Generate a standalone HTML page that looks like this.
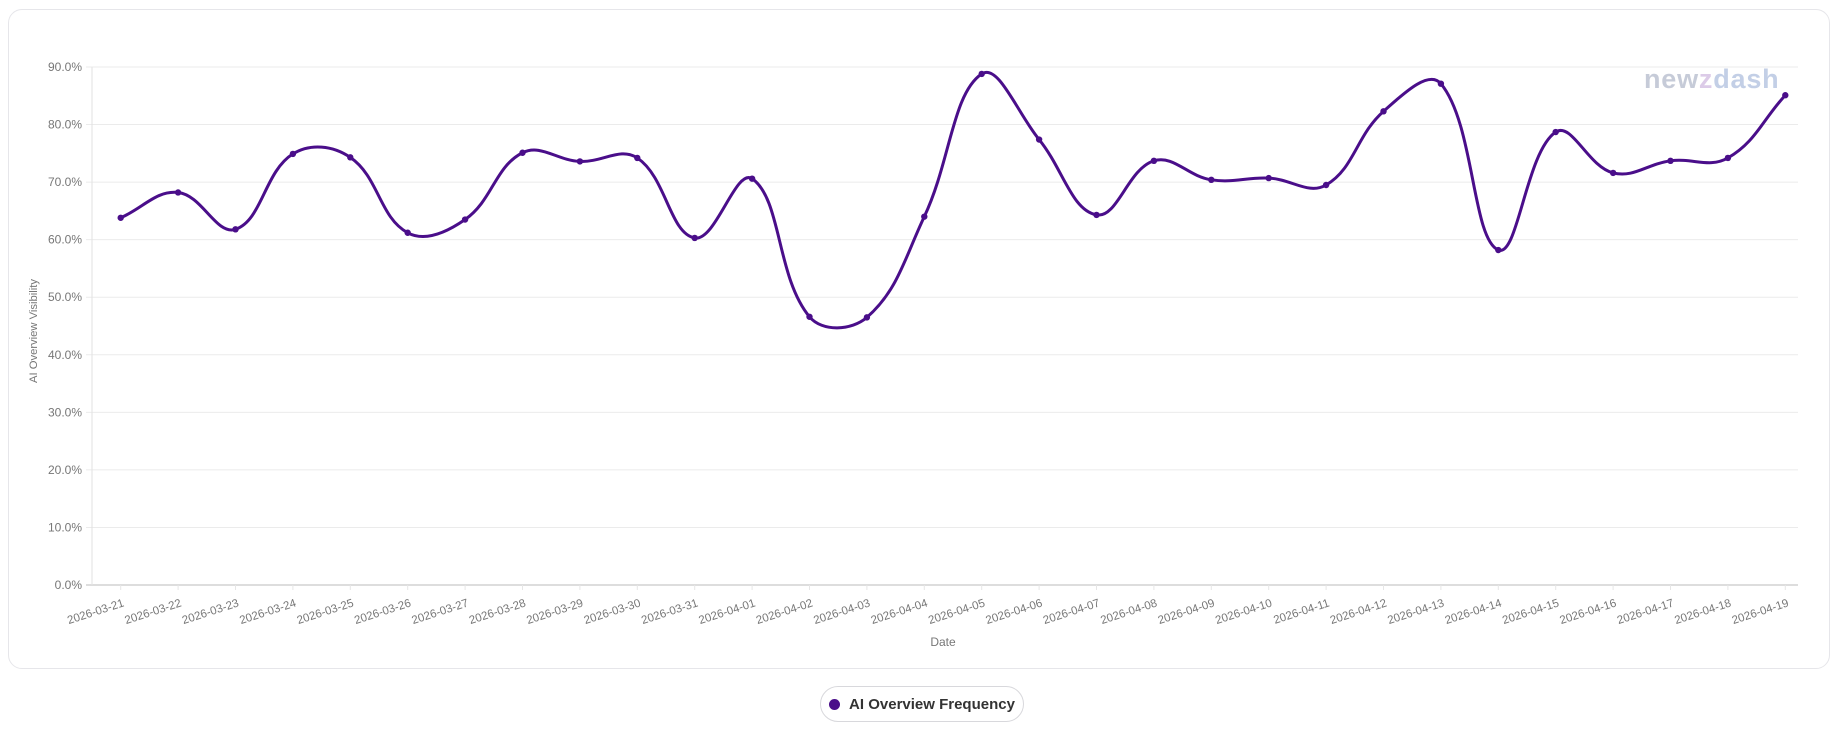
<!DOCTYPE html>
<html><head><meta charset="utf-8"><style>
html,body{margin:0;padding:0;background:#fff;}
body{width:1843px;height:732px;position:relative;overflow:hidden;font-family:"Liberation Sans",sans-serif;}
#card{position:absolute;left:8px;top:9px;width:1822px;height:660px;border:1px solid #e6e6ea;border-radius:14px;box-sizing:border-box;}
#legend{position:absolute;left:820px;top:686px;width:204px;height:36px;border:1px solid #d8d8dc;border-radius:18px;box-sizing:border-box;display:flex;align-items:center;justify-content:center;font-size:15px;color:#333;font-weight:bold;}
#legend .dot{width:11px;height:11px;border-radius:50%;background:#4a0e8a;margin-right:9px;}
svg{position:absolute;left:0;top:0;}
</style></head><body>
<div id="card"></div>
<svg id="chart" width="1843" height="732"></svg>
<div id="legend"><span class="dot"></span><span>AI Overview Frequency</span></div>
<script>
const categories=["2026-03-21","2026-03-22","2026-03-23","2026-03-24","2026-03-25","2026-03-26","2026-03-27","2026-03-28","2026-03-29","2026-03-30","2026-03-31","2026-04-01","2026-04-02","2026-04-03","2026-04-04","2026-04-05","2026-04-06","2026-04-07","2026-04-08","2026-04-09","2026-04-10","2026-04-11","2026-04-12","2026-04-13","2026-04-14","2026-04-15","2026-04-16","2026-04-17","2026-04-18","2026-04-19"];
const values=[63.8,68.2,61.8,74.9,74.3,61.2,63.5,75.1,73.6,74.2,60.3,70.6,46.6,46.5,64.0,88.8,77.4,64.3,73.7,70.4,70.7,69.5,82.3,87.1,58.2,78.7,71.6,73.7,74.2,85.1];
const yTicks=[0,10,20,30,40,50,60,70,80,90];
const yTickLabels=["0.0%","10.0%","20.0%","30.0%","40.0%","50.0%","60.0%","70.0%","80.0%","90.0%"];

const NS="http://www.w3.org/2000/svg";
const svg=document.getElementById('chart');
const L=92,R=1814,GR=1798,T=67,B=585,YMAX=90;
const band=(R-L)/categories.length;
function xS(i){return L+band*(i+0.5);}
function yS(v){return B-(v/YMAX)*(B-T);}
function mk(tag,attrs,parent){const e=document.createElementNS(NS,tag);for(const k in attrs)e.setAttribute(k,attrs[k]);(parent||svg).appendChild(e);return e;}

yTicks.forEach((t,i)=>{
  const g=mk('line',{x1:L-6,x2:GR,y1:yS(t),y2:yS(t),stroke:i==0?'#ddd':'#ebebeb','stroke-width':i==0?2:1});
  
  
  const tx=mk('text',{x:L-10,y:yS(t)+4,'text-anchor':'end','font-size':12,fill:'#777'});
  tx.textContent=yTickLabels[i];
  
  
});
const ax=mk('line',{x1:L,x2:L,y1:T,y2:B,stroke:'#e2e2e2','stroke-width':1});



categories.forEach((c,i)=>{
  const x=xS(i);
  const tl=mk('line',{x1:x,x2:x,y1:B,y2:B+5,stroke:'#e6e6e6'});
  
  
  const tx=mk('text',{x:x+4,y:B+21,'text-anchor':'end','font-size':11.5,fill:'#777',transform:`rotate(-18 ${x+4} ${B+21})`});
  tx.textContent=c;
  
  
});

const yt=mk('text',{x:0,y:0,'text-anchor':'middle','font-size':11,fill:'#777',transform:'translate(37 331) rotate(-90)','textLength':104,'lengthAdjust':'spacingAndGlyphs'});
yt.textContent='AI Overview Visibility';


const xt=mk('text',{x:(L+R)/2-10,y:646,'text-anchor':'middle','font-size':12,fill:'#777'});
xt.textContent='Date';



const wm=mk('text',{x:1644,y:88,'font-size':27,'font-weight':'bold',fill:'#c6cbd8','letter-spacing':'0.8'});


wm.innerHTML='new<tspan fill="#dccbe8">z</tspan><tspan fill="#c3cfe6">dash</tspan>';

const pts=values.map((v,i)=>({x:xS(i),y:yS(v)}));
const tension=0.4;
const cps=pts.map((p,i)=>{
  const prev=pts[i-1]||p,next=pts[i+1]||p;
  const d01=Math.hypot(p.x-prev.x,p.y-prev.y),d12=Math.hypot(next.x-p.x,next.y-p.y);
  let s01=d01/(d01+d12)||0,s12=d12/(d01+d12)||0;
  const fa=tension*s01,fb=tension*s12;
  return {px:p.x-fa*(next.x-prev.x),py:p.y-fa*(next.y-prev.y),nx:p.x+fb*(next.x-prev.x),ny:p.y+fb*(next.y-prev.y)};
});
let d=`M${pts[0].x},${pts[0].y}`;
for(let i=1;i<pts.length;i++){d+=` C${cps[i-1].nx},${cps[i-1].ny} ${cps[i].px},${cps[i].py} ${pts[i].x},${pts[i].y}`;}
const line=mk('path',{d:d,fill:'none',stroke:'#4a0e8a','stroke-width':3,'stroke-linejoin':'round'});


pts.forEach((p,i)=>{
  const c=mk('circle',{cx:p.x,cy:p.y,r:3.2,fill:'#4a0e8a'});
  
  
});
</script>
</body></html>
